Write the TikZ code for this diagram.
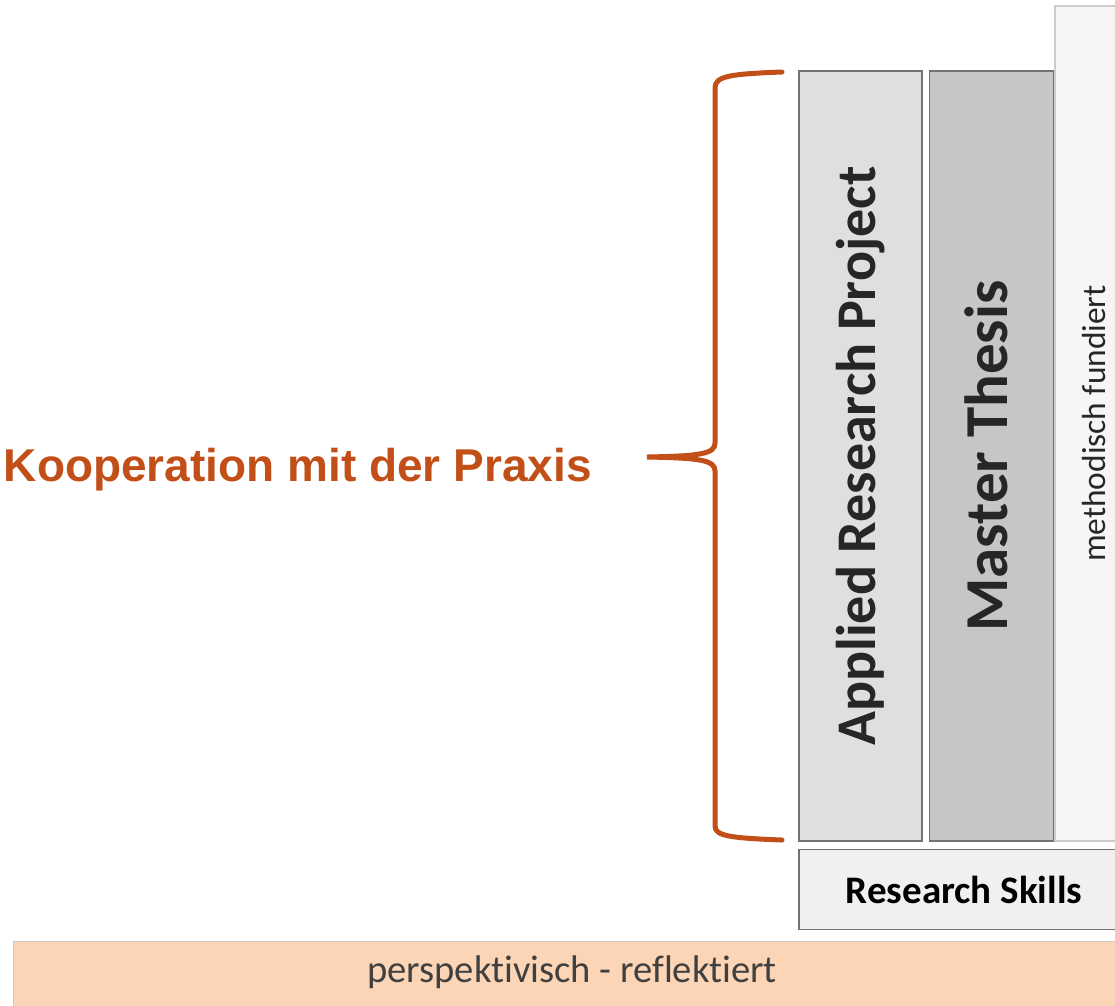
\documentclass[tikz,border=0pt]{standalone}
\usepackage{fontspec}
\setmainfont{Carlito}[Ligatures=NoCommon]
\newfontfamily\arialfont{Liberation Sans}
\usepackage{xcolor}
\usepackage{tikz}
\usetikzlibrary{positioning}
\definecolor{braceorange}{HTML}{C24E18}
\definecolor{peach}{HTML}{FBD5B5}
\newcommand\fsize[1]{\fontsize{#1}{#1}\selectfont}

\begin{document}
\begin{tikzpicture}[x=1pt,y=-1pt,
colbox/.style={draw=black!55, line width=1.6pt, inner sep=0pt},
coltext/.style={rotate=90, inner sep=0pt, text=black!85}]
\clip (0,0) rectangle (1115,1005);

%----------columns
\node[colbox,
fill=gray!25,
minimum width=123, minimum height=770] (arp) at (860.5,456) {};
\node[colbox,
fill=gray!45,
minimum width=124, minimum height=770,
right=6pt of arp] (mt) {};
%last one:
\node[colbox,
draw=gray!40,
fill=gray!7,
minimum width=78, minimum height=835,
anchor=south west] (meth) at (mt.south east) {};

%----------texts
\node[coltext] (arptext) at (arp.center) {\fsize{56}\bfseries Applied Research Project};
\node[coltext] (mttext) at ([xshift=-5pt]mt.center) {\fsize{61}\bfseries Master Thesis};
\node[coltext] (methtext) at (meth.center) {\fsize{33.4}methodisch fundiert};

%----------skills
\node[colbox,
fill=gray!12,
minimum width=330, minimum height=80,
anchor=north west] (rs) at ([yshift=-7pt]arp.south west) {\fsize{39}\bfseries Research Skills};

%----------bar
\node[draw=gray!40,
fill=peach,
minimum width=1120, minimum height=70,
anchor=north west] (bar) at (13,941) {};
\node[text=black!75, inner sep=0pt] (bartext) at (572,972) {\fsize{38.6}perspektivisch - reflektiert};

%----------brace
\coordinate (tip) at (647,457);
\draw[braceorange, line width=5pt, line cap=round]
(782,72) .. controls (730,74) and (715,76) .. (715,88) -- (715,443)
.. controls (715,454) and (700,456) .. (tip)
.. controls (700,458) and (715,460) .. (715,471) -- (715,826)
.. controls (715,836) and (730,838) .. (782,840);
\node[anchor=base east, inner sep=0pt, text=braceorange] (coop) at (592,481) {\arialfont\bfseries\fsize{46}Kooperation mit der Praxis};

\end{tikzpicture}
\end{document}
